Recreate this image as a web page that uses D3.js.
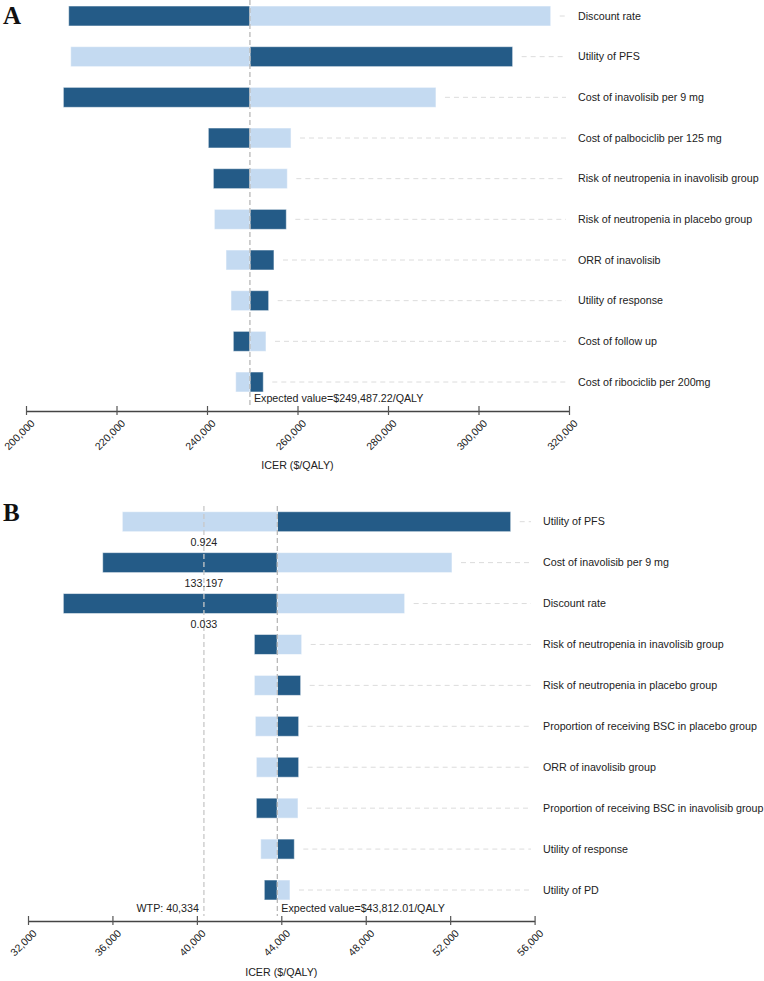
<!DOCTYPE html>
<html>
<head>
<meta charset="utf-8">
<script src="https://cdn.jsdelivr.net/npm/d3@7"></script>
<style>
  html, body { margin: 0; padding: 0; background: #fff; }
  svg { display: block; }
  text { font-family: "Liberation Sans", Arial, sans-serif; fill: #222; }
  text.letter { font-family: "Liberation Serif", "Times New Roman", serif; font-weight: bold; fill: #111; }
</style>
</head>
<body>
<svg id="chart" width="764" height="981"></svg>
<script>
// ---------- Panel A data ----------
const aParams = ["Discount rate", "Utility of PFS", "Cost of inavolisib per 9 mg",
  "Cost of palbociclib per 125 mg", "Risk of neutropenia in inavolisib group",
  "Risk of neutropenia in placebo group", "ORR of inavolisib", "Utility of response",
  "Cost of follow up", "Cost of ribociclib per 200mg"];
// ICER at the lower bound of each parameter (dark bar)
const aLowBound = [209430, 307550, 208250, 240290, 241400, 257530, 254800, 253630, 245810, 252440];
// ICER at the upper bound of each parameter (light bar)
const aHighBound = [315960, 209880, 290600, 258570, 257750, 241620, 244200, 245300, 253040, 246340];
const aBase = 249487.22;
const aTicks = [200000, 220000, 240000, 260000, 280000, 300000, 320000];

// ---------- Panel B data ----------
const bParams = ["Utility of PFS", "Cost of inavolisib per 9 mg", "Discount rate",
  "Risk of neutropenia in inavolisib group", "Risk of neutropenia in placebo group",
  "Proportion of receiving BSC in placebo group", "ORR of inavolisib group",
  "Proportion of receiving BSC in inavolisib group", "Utility of response", "Utility of PD"];
const bLowBound = [54868, 35538, 33673, 42722, 44918, 44824, 44824, 42816, 44617, 43194];
const bHighBound = [36468, 52087, 49845, 44966, 42722, 42769, 42816, 44791, 43024, 44412];
const bBase = 43812.01;
const bWTP = 40334;
const bThresholdRows = [0, 1, 2];
const bThresholdLabels = ["0.924", "133.197", "0.033"];
const bTicks = [32000, 36000, 40000, 44000, 48000, 52000, 56000];

const DARK = "#245b87", LIGHT = "#c4daf1";
const svg = d3.select("#chart");
const fmt = d3.format(",");

function panel(cfg) {
  const g = svg.append("g");
  const x = d3.scaleLinear().domain(cfg.domain).range(cfg.xRange);
  const y = d3.scalePoint().domain(d3.range(cfg.params.length)).range(cfg.yRange);
  const bh = 20;
  const xb = x(cfg.base);

  // leader dashed lines
  cfg.params.forEach((p, i) => {
    const endX = Math.max(x(cfg.low[i]), x(cfg.high[i]));
    g.append("line")
      .attr("x1", endX + 9).attr("x2", cfg.leaderEnd)
      .attr("y1", y(i)).attr("y2", y(i))
      .attr("stroke", "#dcdcdc").attr("stroke-width", 1)
      .attr("stroke-dasharray", "5,4");
    g.append("text")
      .attr("x", cfg.labelX).attr("y", y(i)).attr("dy", "0.35em")
      .style("font-size", "10.7px").text(p);
  });

  // bars
  cfg.params.forEach((p, i) => {
    [[cfg.low[i], DARK], [cfg.high[i], LIGHT]].forEach(([v, c]) => {
      const x0 = Math.min(xb, x(v)), x1 = Math.max(xb, x(v));
      g.append("rect")
        .attr("x", x0).attr("y", y(i) - bh / 2)
        .attr("width", x1 - x0).attr("height", bh)
        .attr("fill", c)
        .attr("stroke", "#ffffff").attr("stroke-opacity", 0.55).attr("stroke-width", 1);
    });
  });

  // base line
  g.append("line")
    .attr("x1", xb).attr("x2", xb)
    .attr("y1", cfg.lineTop).attr("y2", cfg.axisY - 5)
    .attr("stroke", "#b8b8b8").attr("stroke-width", 1.3)
    .attr("stroke-dasharray", "5,3");
  g.append("text")
    .attr("x", xb + 4).attr("y", cfg.axisY - 9)
    .style("font-size", "10.7px")
    .text("Expected value=$" + d3.format(",.2f")(cfg.base) + "/QALY");

  // axis
  const axis = d3.axisBottom(x).tickValues(cfg.ticks).tickFormat(fmt).tickSize(4).tickSizeOuter(0);
  const ag = g.append("g").attr("transform", `translate(0,${cfg.axisY})`).call(axis);
  ag.select(".domain").attr("stroke", "#444").attr("stroke-width", 1.5);
  ag.selectAll(".tick line").attr("y1", -5).attr("y2", 4).attr("stroke", "#555").attr("stroke-width", 1.2);
  ag.selectAll(".tick text")
    .attr("x", 0).attr("y", 0).attr("dy", 0)
    .attr("transform", "translate(9,13) rotate(-45)")
    .attr("text-anchor", "end")
    .style("font-size", "10.5px")
    .attr("fill", "#222");

  g.append("text")
    .attr("x", (cfg.xRange[0] + cfg.xRange[1]) / 2)
    .attr("y", cfg.axisY + cfg.titleOffset)
    .attr("text-anchor", "middle").style("font-size", "10.7px")
    .text("ICER ($/QALY)");

  g.append("text")
    .attr("class", "letter")
    .attr("x", 3).attr("y", cfg.letterY)
    .style("font-size", "25px")
    .text(cfg.letter);

  return { g, x, y };
}

panel({
  letter: "A", letterY: 24,
  params: aParams, low: aLowBound, high: aHighBound, base: aBase,
  domain: [200000, 320000], xRange: [26, 569], yRange: [16, 382],
  axisY: 411, ticks: aTicks, leaderEnd: 566, labelX: 578,
  lineTop: 0, titleOffset: 58
});

const pb = panel({
  letter: "B", letterY: 521,
  params: bParams, low: bLowBound, high: bHighBound, base: bBase,
  domain: [32000, 56000], xRange: [28, 534.6], yRange: [521.7, 890],
  axisY: 921, ticks: bTicks, leaderEnd: 531, labelX: 543,
  lineTop: 506, titleOffset: 55
});

// WTP line and threshold annotations (panel B)
const xw = pb.x(bWTP);
pb.g.append("line")
  .attr("x1", xw).attr("x2", xw).attr("y1", 506).attr("y2", 916)
  .attr("stroke", "#c8c8c8").attr("stroke-width", 1.3).attr("stroke-dasharray", "5,3");
pb.g.append("text")
  .attr("x", xw - 5).attr("y", 912).attr("text-anchor", "end").style("font-size", "10.7px")
  .text("WTP: " + fmt(bWTP));
bThresholdRows.forEach((r, k) => {
  pb.g.append("text")
    .attr("x", xw).attr("y", pb.y(r) + 24)
    .attr("text-anchor", "middle").style("font-size", "10.7px")
    .text(bThresholdLabels[k]);
});
</script>
</body>
</html>
